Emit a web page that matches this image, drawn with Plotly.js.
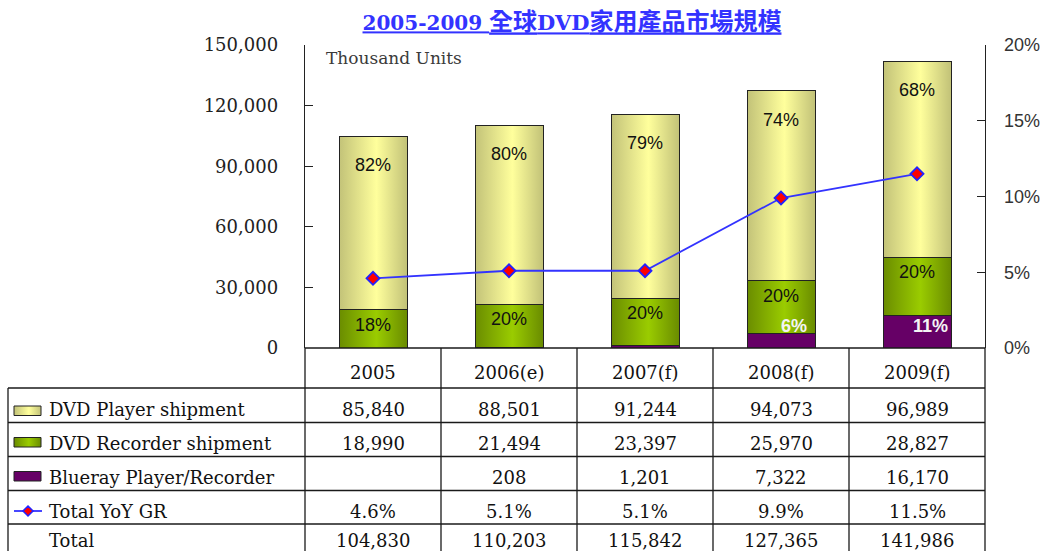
<!DOCTYPE html>
<html>
<head>
<meta charset="utf-8">
<script src="https://cdn.plot.ly/plotly-3.0.1.min.js"></script>
<style>html,body{margin:0;padding:0;background:#fff;}#chart{width:1046px;height:551px;}</style>
</head>
<body>
<div id="chart"></div>
<script>
// ---- data ----
var categories = ['2005', '2006(e)', '2007(f)', '2008(f)', '2009(f)'];
var dvdPlayer = [85840, 88501, 91244, 94073, 96989];
var dvdRecorder = [18990, 21494, 23397, 25970, 28827];
var blueray = [null, 208, 1201, 7322, 16170];
var yoyGrowth = [4.6, 5.1, 5.1, 9.9, 11.5];
var totals = [104830, 110203, 115842, 127365, 141986];
var playerShare = ['82%', '80%', '79%', '74%', '68%'];
var recorderShare = ['18%', '20%', '20%', '20%', '20%'];
var bluerayShare = ['', '', '', '6%', '11%'];
var rowLabels = ['DVD Player shipment', 'DVD Recorder shipment', 'Blueray Player/Recorder', 'Total YoY GR', 'Total'];
var leftTicks = [0, 30000, 60000, 90000, 120000, 150000];
var rightTicks = [0, 5, 10, 15, 20];
var rightTickText = ['0%', '5%', '10%', '15%', '20%'];

// ---- styling ----
var YELLOW = '#EEEE91', GREEN = '#8AB400', PURPLE = '#660066';
var SERIF = 'DejaVu Serif, Noto Sans CJK TC, serif';
var SANS = 'Liberation Sans, Arial, sans-serif';
var L = 305, R = 985, T = 45, B = 348;
function px(x) { return (x - L) / (R - L); }
function py(y) { return (B - y) / (B - T); }
function fmt(v) { return (v === null || v === undefined) ? '' : v.toLocaleString('en-US'); }

var lineStyle = {color: '#1a1a1a', width: 1.3};

var data = [
  {type: 'bar', x: categories, y: blueray, name: 'Blueray Player/Recorder', yaxis: 'y',
   marker: {color: PURPLE, line: {color: '#222', width: 1}}},
  {type: 'bar', x: categories, y: dvdRecorder, name: 'DVD Recorder shipment', yaxis: 'y',
   marker: {color: GREEN, line: {color: '#222', width: 1}}},
  {type: 'bar', x: categories, y: dvdPlayer, name: 'DVD Player shipment', yaxis: 'y',
   marker: {color: YELLOW, line: {color: '#222', width: 1}}},
  {type: 'scatter', mode: 'lines+markers', x: categories, y: yoyGrowth, name: 'Total YoY GR', yaxis: 'y2',
   line: {color: '#3333ff', width: 1.8},
   marker: {symbol: 'diamond', size: 10, color: '#ff0000', line: {color: '#2222ff', width: 1.8}}}
];

var annotations = [];
var shapes = [];

// bar value labels (x given as category index)
for (var i = 0; i < categories.length; i++) {
  var b = blueray[i] || 0;
  var gTop = b + dvdRecorder[i];
  var yTop = gTop + dvdPlayer[i];
  annotations.push({xref: 'x', yref: 'y', x: i, y: yTop, yshift: -29, yanchor: 'middle',
    text: playerShare[i], showarrow: false, font: {family: SANS, size: 18, color: '#111'}});
  annotations.push({xref: 'x', yref: 'y', x: i, y: gTop, yshift: -15, yanchor: 'middle',
    text: recorderShare[i], showarrow: false, font: {family: SANS, size: 18, color: '#111'}});
  if (bluerayShare[i]) {
    annotations.push({xref: 'x', yref: 'y', x: i, y: 0, yshift: 22, xshift: 13, yanchor: 'middle',
      text: '<b>' + bluerayShare[i] + '</b>', showarrow: false, font: {family: SANS, size: 18, color: '#f4f4f4'}});
  }
}

// Thousand Units
annotations.push({xref: 'paper', yref: 'paper', x: px(324), y: py(58), xanchor: 'left', yanchor: 'middle',
  text: 'Thousand Units', showarrow: false, font: {family: SERIF, size: 17, color: '#3a3a3a'}});

// ---- data table ----
var rowCenters = [409.5, 443, 477, 511, 540.5];
var headerCenter = 372;
var tableFont = {family: SERIF, size: 18, color: '#111'};
for (var c = 0; c < categories.length; c++) {
  annotations.push({xref: 'x', yref: 'paper', x: c, y: py(headerCenter), yanchor: 'middle',
    text: categories[c], showarrow: false, font: tableFont});
  var rowVals = [fmt(dvdPlayer[c]), fmt(dvdRecorder[c]), fmt(blueray[c]), yoyGrowth[c].toFixed(1) + '%', fmt(totals[c])];
  for (var r = 0; r < rowVals.length; r++) {
    if (!rowVals[r]) continue;
    annotations.push({xref: 'x', yref: 'paper', x: c, y: py(rowCenters[r]), yanchor: 'middle',
      text: rowVals[r], showarrow: false, font: tableFont});
  }
}
for (var r2 = 0; r2 < rowLabels.length; r2++) {
  annotations.push({xref: 'paper', yref: 'paper', x: px(47), y: py(rowCenters[r2]), xanchor: 'left', yanchor: 'middle',
    text: rowLabels[r2], showarrow: false, font: tableFont});
}

// table lines
shapes.push({type: 'line', xref: 'paper', yref: 'paper', x0: px(L), x1: px(R), y0: py(B), y1: py(B), line: lineStyle});
[388, 422.5, 456.5, 490.5, 524].forEach(function (yy) {
  shapes.push({type: 'line', xref: 'paper', yref: 'paper', x0: px(8), x1: px(R), y0: py(yy), y1: py(yy), line: lineStyle});
});
for (var k = 0; k <= categories.length; k++) {
  var xp = k / categories.length;
  shapes.push({type: 'line', xref: 'paper', yref: 'paper', x0: xp, x1: xp, y0: py(B), y1: py(570), line: lineStyle});
}
shapes.push({type: 'line', xref: 'paper', yref: 'paper', x0: px(8), x1: px(8), y0: py(388), y1: py(570), line: lineStyle});

// legend keys in table
[[YELLOW, 406], [GREEN, 437.5], [PURPLE, 471.5]].forEach(function (s) {
  shapes.push({type: 'rect', xref: 'paper', yref: 'paper', x0: px(14), x1: px(41), y0: py(s[1]), y1: py(s[1] + 9.5),
    fillcolor: s[0], line: {color: '#222', width: 1}});
});
shapes.push({type: 'line', xref: 'paper', yref: 'paper', x0: px(14), x1: px(42), y0: py(511), y1: py(511),
  line: {color: '#3333ff', width: 1.8}});
shapes.push({type: 'path', xref: 'paper', yref: 'paper',
  path: 'M ' + px(28) + ' ' + py(506) + ' L ' + px(33) + ' ' + py(511) + ' L ' + px(28) + ' ' + py(516) + ' L ' + px(23) + ' ' + py(511) + ' Z',
  fillcolor: '#ff0000', line: {color: '#2222ff', width: 1.5}});

var layout = {
  width: 1046, height: 551,
  margin: {l: L, r: 1046 - R, t: T, b: 551 - B, pad: 0},
  paper_bgcolor: '#fff', plot_bgcolor: '#fff',
  showlegend: false,
  barmode: 'stack', bargap: 0.5,
  title: {text: '<u><b><span style="font-size:20px">2005-2009 </span>全球<span style="font-size:21px">DVD</span>家用產品市場規模</b></u>',
    x: 572 / 1046, xanchor: 'center', xref: 'container', y: 1 - 22 / 551, yanchor: 'middle', yref: 'container',
    font: {family: SERIF, size: 24, color: '#3333ff'}},
  xaxis: {type: 'category', range: [-0.5, 4.5], showticklabels: false, ticks: '', showline: false,
    showgrid: false, zeroline: false, fixedrange: true},
  yaxis: {range: [0, 150000], tickvals: leftTicks, tickformat: ',d', ticks: 'inside', ticklen: 8, tickcolor: '#222',
    showline: true, linecolor: '#222', linewidth: 1.3, showgrid: false, zeroline: false,
    ticklabelstandoff: 22, tickfont: {family: SERIF, size: 18, color: '#222'}},
  yaxis2: {overlaying: 'y', side: 'right', range: [0, 20], tickvals: rightTicks, ticktext: rightTickText,
    ticks: 'inside', ticklen: 8, tickcolor: '#222', showline: true, linecolor: '#222', linewidth: 1.3,
    showgrid: false, zeroline: false, ticklabelstandoff: 14, tickfont: {family: SANS, size: 18, color: '#333'}},
  annotations: annotations,
  shapes: shapes
};

var gd = document.getElementById('chart');
Plotly.newPlot(gd, data, layout, {staticPlot: true, displayModeBar: false}).then(function () {
  var ns = 'http://www.w3.org/2000/svg';
  var svg = gd.querySelector('svg.main-svg');
  var defs = svg.querySelector('defs');
  if (!defs) { defs = document.createElementNS(ns, 'defs'); svg.insertBefore(defs, svg.firstChild); }
  function grad(id, stops) {
    var g = document.createElementNS(ns, 'linearGradient');
    g.setAttribute('id', id);
    g.setAttribute('x1', '0'); g.setAttribute('x2', '1'); g.setAttribute('y1', '0'); g.setAttribute('y2', '0');
    stops.forEach(function (s) {
      var st = document.createElementNS(ns, 'stop');
      st.setAttribute('offset', s[0]); st.setAttribute('stop-color', s[1]);
      g.appendChild(st);
    });
    defs.appendChild(g);
  }
  grad('gradYellow', [['0', '#C2C278'], ['0.55', '#FFFF9C'], ['1', '#C2C278']]);
  grad('gradGreen', [['0', '#6A8C00'], ['0.55', '#9ACC00'], ['1', '#6A8C00']]);
  var yRGB = 'rgb(238, 238, 145)', gRGB = 'rgb(138, 180, 0)';
  gd.querySelectorAll('.barlayer path, .shapelayer path').forEach(function (p) {
    var f = p.style.fill;
    if (f === yRGB) p.style.fill = 'url(#gradYellow)';
    else if (f === gRGB) p.style.fill = 'url(#gradGreen)';
  });
});
</script>
</body>
</html>
